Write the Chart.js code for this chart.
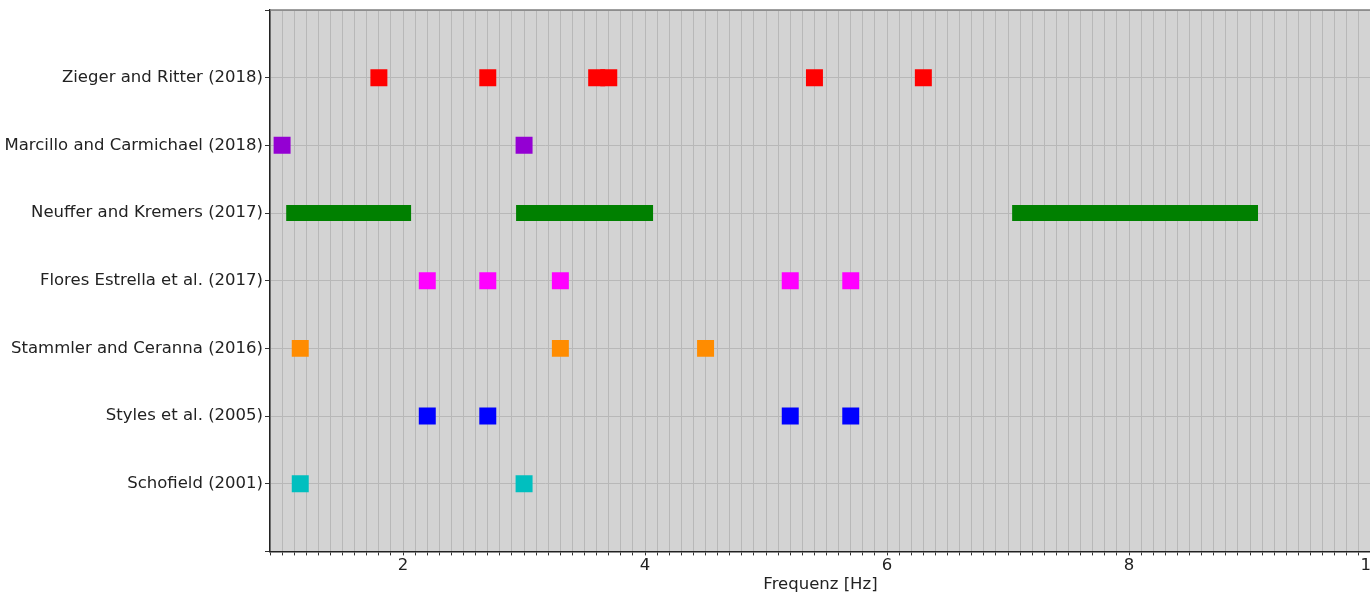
<!DOCTYPE html>
<html>
<head>
<meta charset="utf-8">
<script src="https://cdn.jsdelivr.net/npm/chart.js@4"></script>
<style>
    html, body { margin: 0; padding: 0; background: #ffffff; overflow: hidden; }
    #wrap { position: absolute; left: 0; top: -2px; width: 1383px; height: 603px; }
</style>
</head>
<body>
<div id="wrap"><canvas id="freqChart"></canvas></div>
<script>
// categories, top to bottom (empty rows at both ends)
const categories = [
    "",
    "Zieger and Ritter (2018)",
    "Marcillo and Carmichael (2018)",
    "Neuffer and Kremers (2017)",
    "Flores Estrella et al. (2017)",
    "Stammler and Ceranna (2016)",
    "Styles et al. (2005)",
    "Schofield (2001)",
    ""
];

// frequencies in Hz
const zieger    = [1.8, 2.7, 3.6, 3.7, 5.4, 6.3];
const marcillo  = [1.0, 3.0];
const flores    = [2.2, 2.7, 3.3, 5.2, 5.7];
const stammler  = [1.15, 3.3, 4.5];
const styles    = [2.2, 2.7, 5.2, 5.7];
const schofield = [1.15, 3.0];

// Neuffer and Kremers: frequency bands
const neufferStart = [1.1, 3.0, 7.1];
const neufferEnd   = [2.0, 4.0, 9.0];

const xMin = 0.9;
const xMax = 10;

document.addEventListener("DOMContentLoaded", function () {

    const canvas = document.getElementById("freqChart");
    const font = { family: "DejaVu Sans", size: 16.5 };
    const textColor = "#222222";

    function pointSet(values, row, color) {
        return {
            type: "scatter",
            data: values.map(v => ({ x: v, y: row })),
            pointStyle: "rect",
            pointRadius: 12,
            pointHoverRadius: 12,
            backgroundColor: color,
            borderColor: color,
            pointBorderWidth: 0,
            showLine: false
        };
    }

    const datasets = [
        pointSet(zieger, 1, "#ff0000"),
        pointSet(marcillo, 2, "#9400d3"),
        pointSet(flores, 4, "#ff00ff"),
        pointSet(stammler, 5, "#ff8c00"),
        pointSet(styles, 6, "#0000ff"),
        pointSet(schofield, 7, "#00bfbf")
    ];

    neufferStart.forEach((s, i) => {
        datasets.push({
            type: "line",
            data: [{ x: s, y: 3 }, { x: neufferEnd[i], y: 3 }],
            borderColor: "#008000",
            backgroundColor: "#008000",
            borderWidth: 16,
            borderCapStyle: "square",
            pointRadius: 0,
            pointHoverRadius: 0,
            fill: false
        });
    });

    // grey plot background and top spine
    const plotBackground = {
        id: "plotBackground",
        beforeDraw(chart) {
            const { ctx, chartArea: a } = chart;
            ctx.save();
            ctx.fillStyle = "#d3d3d3";
            ctx.fillRect(a.left, a.top, a.right - a.left, a.bottom - a.top);
            ctx.restore();
        },
        afterDraw(chart) {
            const { ctx, chartArea: a } = chart;
            ctx.save();
            ctx.strokeStyle = "#7f7f7f";
            ctx.lineWidth = 1.5;
            ctx.beginPath();
            ctx.moveTo(a.left, a.top);
            ctx.lineTo(a.right, a.top);
            ctx.stroke();
            ctx.restore();
        }
    };

    function isMajor(v) {
        const r = Math.round(v);
        return Math.abs(v - r) < 1e-6 && r % 2 === 0;
    }

    new Chart(canvas, {
        type: "scatter",
        data: { datasets: datasets },
        options: {
            responsive: true,
            maintainAspectRatio: false,
            animation: false,
            layout: { padding: { top: 0, left: 0, right: 0, bottom: 6 } },
            plugins: {
                legend: { display: false },
                tooltip: { enabled: false }
            },
            scales: {
                x: {
                    type: "linear",
                    min: xMin,
                    max: xMax,
                    ticks: {
                        stepSize: 0.1,
                        autoSkip: false,
                        maxRotation: 0,
                        padding: 0,
                        color: textColor,
                        font: font,
                        callback: (v) => isMajor(v) ? String(Math.round(v)) : ""
                    },
                    grid: {
                        color: "#b8b8b8",
                        lineWidth: 1,
                        tickLength: 4,
                        tickColor: "#333333"
                    },
                    border: { color: "#222222", width: 1.5 },
                    title: {
                        display: true,
                        text: "Frequenz [Hz]",
                        color: textColor,
                        font: font,
                        padding: { top: 0, bottom: 0 }
                    }
                },
                y: {
                    type: "linear",
                    reverse: true,
                    min: 0,
                    max: categories.length - 1,
                    afterFit: (scale) => { scale.width = 270; },
                    ticks: {
                        stepSize: 1,
                        autoSkip: false,
                        padding: 2,
                        color: textColor,
                        font: font,
                        callback: (v) => categories[v] || ""
                    },
                    grid: {
                        color: "#b8b8b8",
                        lineWidth: 1,
                        tickLength: 5,
                        tickColor: "#333333"
                    },
                    border: { color: "#222222", width: 1.5 }
                }
            }
        },
        plugins: [plotBackground]
    });
});
</script>
</body>
</html>
